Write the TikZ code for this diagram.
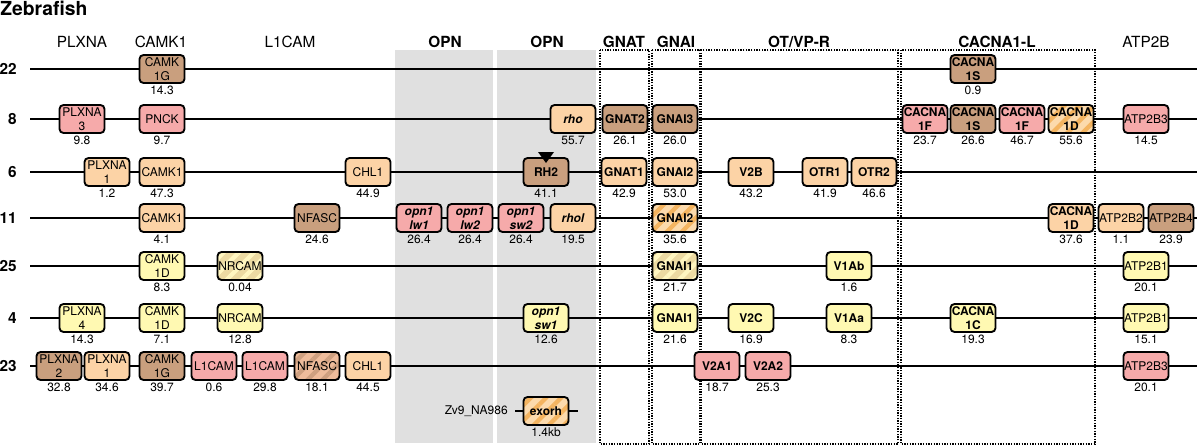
\documentclass[tikz,border=0pt]{standalone}
\usepackage{fontspec}
\setmainfont{TeX Gyre Heros}
\usetikzlibrary{patterns.meta}

\begin{document}
\begin{tikzpicture}[x=0.75pt,y=0.75pt,yscale=-1,xscale=1,
  gene/.style={draw, line width=1.4pt, rounded corners=3pt, minimum width=33.75pt, minimum height=21pt, inner sep=0pt, align=center, font=\fontsize{9}{10.2}\selectfont},
  bgene/.style={gene, font=\fontsize{9}{10.2}\selectfont\bfseries},
  igene/.style={gene, font=\fontsize{9}{10.2}\selectfont\bfseries\itshape},
  brownbox/.style={fill={rgb,255:red,201;green,159;blue,126}},
  pinkbox/.style={fill={rgb,255:red,246;green,170;blue,170}},
  orangebox/.style={fill={rgb,255:red,252;green,211;blue,166}},
  yellowbox/.style={fill={rgb,255:red,255;green,249;blue,178}},
  orangehatch/.style={preaction={fill={rgb,255:red,252;green,218;blue,172}}, pattern={Lines[angle=45,distance=8pt,line width=3.2pt]}, pattern color={rgb,255:red,244;green,180;blue,96}},
  yellowhatch/.style={preaction={fill={rgb,255:red,236;green,218;blue,162}}, pattern={Lines[angle=45,distance=8pt,line width=3.2pt]}, pattern color={rgb,255:red,255;green,246;blue,192}},
  brownhatch/.style={preaction={fill={rgb,255:red,238;green,188;blue,155}}, pattern={Lines[angle=45,distance=8pt,line width=3.2pt]}, pattern color={rgb,255:red,206;green,160;blue,128}},
  val/.style={inner sep=0pt, font=\fontsize{9}{10}\selectfont},
  chrom/.style={line width=1.3pt},
  group/.style={line width=1pt, dash pattern=on 1pt off 1pt},
  band/.style={fill={rgb,255:red,224;green,224;blue,224}},
  head/.style={inner sep=0pt, font=\fontsize{11.5}{12}\selectfont},
  bhead/.style={inner sep=0pt, font=\fontsize{11.5}{12}\selectfont\bfseries},
  rowno/.style={anchor=east, inner sep=0pt, font=\fontsize{11.5}{12}\selectfont\bfseries}]
\useasboundingbox (0,0) rectangle (1200,446);

%Shape: Rectangle [OPN bands]
\fill [band] (395,50) rectangle (493,443);
\fill [band] (497,50) rectangle (596,443);
%Shape: Rectangle [dotted groups]
\draw [group] (600,50) rectangle (649,444);
\draw [group] (652,50) rectangle (700,444);
\draw [group] (701,50) rectangle (898,444);
\draw [group] (901,50) rectangle (1095,444);

% Text Node
\draw (0,15) node [anchor=base west][inner sep=0pt, font=\fontsize{14.5}{16}\selectfont\bfseries] (title) {Zebrafish};

% column heads
\draw (82,42) node [head] (hplxna) {PLXNA};
\draw (161,42) node [head] (hcamk) {CAMK1};
\draw (290,42) node [head] (hlcam) {L1CAM};
\draw (445,42) node [bhead] (hopna) {OPN};
\draw (547,42) node [bhead] (hopnb) {OPN};
\draw (624,42) node [bhead] (hgnat) {GNAT};
\draw (676,42) node [bhead] (hgnai) {GNAI};
\draw (799,42) node [bhead] (hotvp) {OT/VP-R};
\draw (997,42) node [bhead] (hcacna) {CACNA1-L};
\draw (1146,42) node [head] (hatp) {ATP2B};

% row numbers
\draw (17,69) node [rowno] (n22) {22};
\draw (17,119) node [rowno] (n8) {8};
\draw (17,172) node [rowno] (n6) {6};
\draw (17,218) node [rowno] (n11) {11};
\draw (17,266) node [rowno] (n25) {25};
\draw (17,318) node [rowno] (n4) {4};
\draw (17,366) node [rowno] (n23) {23};

%Straight Lines [chromosomes]
\coordinate (r22s) at (30,69);  \coordinate (r22e) at (1197,69);
\coordinate (r8s) at (30,119);  \coordinate (r8e) at (1197,119);
\coordinate (r6s) at (30,172);  \coordinate (r6e) at (1197,172);
\coordinate (r11s) at (30,218); \coordinate (r11e) at (1197,218);
\coordinate (r25s) at (30,266); \coordinate (r25e) at (1197,266);
\coordinate (r4s) at (30,318);  \coordinate (r4e) at (1197,318);
\coordinate (r23s) at (30,366); \coordinate (r23e) at (1197,366);
\coordinate (zvs) at (515,411); \coordinate (zve) at (578,411);
\draw [chrom] (r22s) -- (r22e);
\draw [chrom] (r8s) -- (r8e);
\draw [chrom] (r6s) -- (r6e);
\draw [chrom] (r11s) -- (r11e);
\draw [chrom] (r25s) -- (r25e);
\draw [chrom] (r4s) -- (r4e);
\draw [chrom] (r23s) -- (r23e);
\draw [chrom] (zvs) -- (zve);

% row 22
\draw (162,69) node [gene,brownbox] (camkg22) {CAMK\\1G};
\draw (162,90) node [val] (camkg22v) {14.3};
\draw (973,69) node [bgene,brownbox] (cacnas22) {CACNA\\1S};
\draw (973,90) node [val] (cacnas22v) {0.9};

% row 8
\draw (82,119) node [gene,pinkbox] (plxna3) {PLXNA\\3};
\draw (82,140) node [val] (plxna3v) {9.8};
\draw (162,119) node [gene,pinkbox] (pnck) {PNCK};
\draw (162,140) node [val] (pnckv) {9.7};
\draw (573,119) node [igene,orangebox] (rho) {rho};
\draw (573,140) node [val] (rhov) {55.7};
\draw (625,119) node [bgene,brownbox] (gnat2) {GNAT2};
\draw (625,140) node [val] (gnat2v) {26.1};
\draw (675,119) node [bgene,brownbox] (gnai3) {GNAI3};
\draw (675,140) node [val] (gnai3v) {26.0};
\draw (925,119) node [bgene,pinkbox] (cacnaf8a) {CACNA\\1F};
\draw (925,140) node [val] (cacnaf8av) {23.7};
\draw (973,119) node [bgene,brownbox] (cacnas8) {CACNA\\1S};
\draw (973,140) node [val] (cacnas8v) {26.6};
\draw (1022,119) node [bgene,pinkbox] (cacnaf8b) {CACNA\\1F};
\draw (1022,140) node [val] (cacnaf8bv) {46.7};
\draw (1071,119) node [bgene,orangehatch] (cacnad8) {CACNA\\1D};
\draw (1071,140) node [val] (cacnad8v) {55.6};
\draw (1146,119) node [gene,pinkbox] (atpb3a) {ATP2B3};
\draw (1146,140) node [val] (atpb3av) {14.5};

% row 6
\draw (107,172) node [gene,orangebox] (plxna1a) {PLXNA\\1};
\draw (107,193) node [val] (plxna1av) {1.2};
\draw (162,172) node [gene,orangebox] (camk6) {CAMK1};
\draw (162,193) node [val] (camk6v) {47.3};
\draw (368,172) node [gene,orangebox] (chl1a) {CHL1};
\draw (368,193) node [val] (chl1av) {44.9};
\draw (546,172) node [bgene,brownbox] (rh2) {RH2};
\draw (546,193) node [val] (rh2v) {41.1};
\fill (538,152) -- (554,152) -- (546,163) -- cycle;
\draw (624,172) node [bgene,orangebox] (gnat1) {GNAT1};
\draw (624,193) node [val] (gnat1v) {42.9};
\draw (675,172) node [bgene,orangebox] (gnai2a) {GNAI2};
\draw (675,193) node [val] (gnai2av) {53.0};
\draw (751,172) node [bgene,orangebox] (v2b) {V2B};
\draw (751,193) node [val] (v2bv) {43.2};
\draw (825,172) node [bgene,orangebox] (otr1) {OTR1};
\draw (825,193) node [val] (otr1v) {41.9};
\draw (874,172) node [bgene,orangebox] (otr2) {OTR2};
\draw (874,193) node [val] (otr2v) {46.6};

% row 11
\draw (162,218) node [gene,orangebox] (camk11) {CAMK1};
\draw (162,239) node [val] (camk11v) {4.1};
\draw (317,218) node [gene,brownbox] (nfasc11) {NFASC};
\draw (317,239) node [val] (nfasc11v) {24.6};
\draw (419,218) node [igene,pinkbox] (lw1) {opn1\\lw1};
\draw (419,239) node [val] (lw1v) {26.4};
\draw (470,218) node [igene,pinkbox] (lw2) {opn1\\lw2};
\draw (470,239) node [val] (lw2v) {26.4};
\draw (521,218) node [igene,pinkbox] (sw2) {opn1\\sw2};
\draw (521,239) node [val] (sw2v) {26.4};
\draw (573,218) node [igene,orangebox] (rhol) {rhol};
\draw (573,239) node [val] (rholv) {19.5};
\draw (675,218) node [bgene,orangehatch] (gnai2b) {GNAI2};
\draw (675,239) node [val] (gnai2bv) {35.6};
\draw (1071,218) node [bgene,orangebox] (cacnad11) {CACNA\\1D};
\draw (1071,239) node [val] (cacnad11v) {37.6};
\draw (1121,218) node [gene,orangebox] (atpb2) {ATP2B2};
\draw (1121,239) node [val] (atpb2v) {1.1};
\draw (1171,218) node [gene,brownbox] (atpb4) {ATP2B4};
\draw (1171,239) node [val] (atpb4v) {23.9};

% row 25
\draw (162,266) node [gene,yellowbox] (camkd25) {CAMK\\1D};
\draw (162,287) node [val] (camkd25v) {8.3};
\draw (240,266) node [gene,yellowhatch] (nrcam25) {NRCAM};
\draw (240,287) node [val] (nrcam25v) {0.04};
\draw (675,266) node [bgene,yellowhatch] (gnai1a) {GNAI1};
\draw (675,287) node [val] (gnai1av) {21.7};
\draw (849,266) node [bgene,yellowbox] (v1ab) {V1Ab};
\draw (849,287) node [val] (v1abv) {1.6};
\draw (1146,266) node [gene,yellowbox] (atpb1a) {ATP2B1};
\draw (1146,287) node [val] (atpb1av) {20.1};

% row 4
\draw (82,318) node [gene,yellowbox] (plxna4) {PLXNA\\4};
\draw (82,339) node [val] (plxna4v) {14.3};
\draw (162,318) node [gene,yellowbox] (camkd4) {CAMK\\1D};
\draw (162,339) node [val] (camkd4v) {7.1};
\draw (240,318) node [gene,yellowbox] (nrcam4) {NRCAM};
\draw (240,339) node [val] (nrcam4v) {12.8};
\draw (546,318) node [igene,yellowbox] (sw1) {opn1\\sw1};
\draw (546,339) node [val] (sw1v) {12.6};
\draw (675,318) node [bgene,yellowbox] (gnai1b) {GNAI1};
\draw (675,339) node [val] (gnai1bv) {21.6};
\draw (751,318) node [bgene,yellowbox] (v2c) {V2C};
\draw (751,339) node [val] (v2cv) {16.9};
\draw (849,318) node [bgene,yellowbox] (v1aa) {V1Aa};
\draw (849,339) node [val] (v1aav) {8.3};
\draw (973,318) node [bgene,yellowbox] (cacnac4) {CACNA\\1C};
\draw (973,339) node [val] (cacnac4v) {19.3};
\draw (1146,318) node [gene,yellowbox] (atpb1b) {ATP2B1};
\draw (1146,339) node [val] (atpb1bv) {15.1};

% row 23
\draw (59,366) node [gene,brownbox] (plxna2) {PLXNA\\2};
\draw (59,387) node [val] (plxna2v) {32.8};
\draw (107,366) node [gene,orangebox] (plxna1b) {PLXNA\\1};
\draw (107,387) node [val] (plxna1bv) {34.6};
\draw (162,366) node [gene,brownbox] (camkg23) {CAMK\\1G};
\draw (162,387) node [val] (camkg23v) {39.7};
\draw (214,366) node [gene,pinkbox] (l1cama) {L1CAM};
\draw (214,387) node [val] (l1camav) {0.6};
\draw (265,366) node [gene,pinkbox] (l1camb) {L1CAM};
\draw (265,387) node [val] (l1cambv) {29.8};
\draw (317,366) node [gene,brownhatch] (nfasc23) {NFASC};
\draw (317,387) node [val] (nfasc23v) {18.1};
\draw (368,366) node [gene,orangebox] (chl1b) {CHL1};
\draw (368,387) node [val] (chl1bv) {44.5};
\draw (717,366) node [bgene,pinkbox] (v2a1) {V2A1};
\draw (717,387) node [val] (v2a1v) {18.7};
\draw (768,366) node [bgene,pinkbox] (v2a2) {V2A2};
\draw (768,387) node [val] (v2a2v) {25.3};
\draw (1146,366) node [gene,pinkbox] (atpb3b) {ATP2B3};
\draw (1146,387) node [val] (atpb3bv) {20.1};

% scaffold
\draw (508,411) node [anchor=east][val] (zv) {Zv9\_NA986};
\draw (546,411) node [bgene,orangehatch] (exorh) {exorh};
\draw (546,432) node [val] (exorhv) {1.4kb};

\end{tikzpicture}
\end{document}
